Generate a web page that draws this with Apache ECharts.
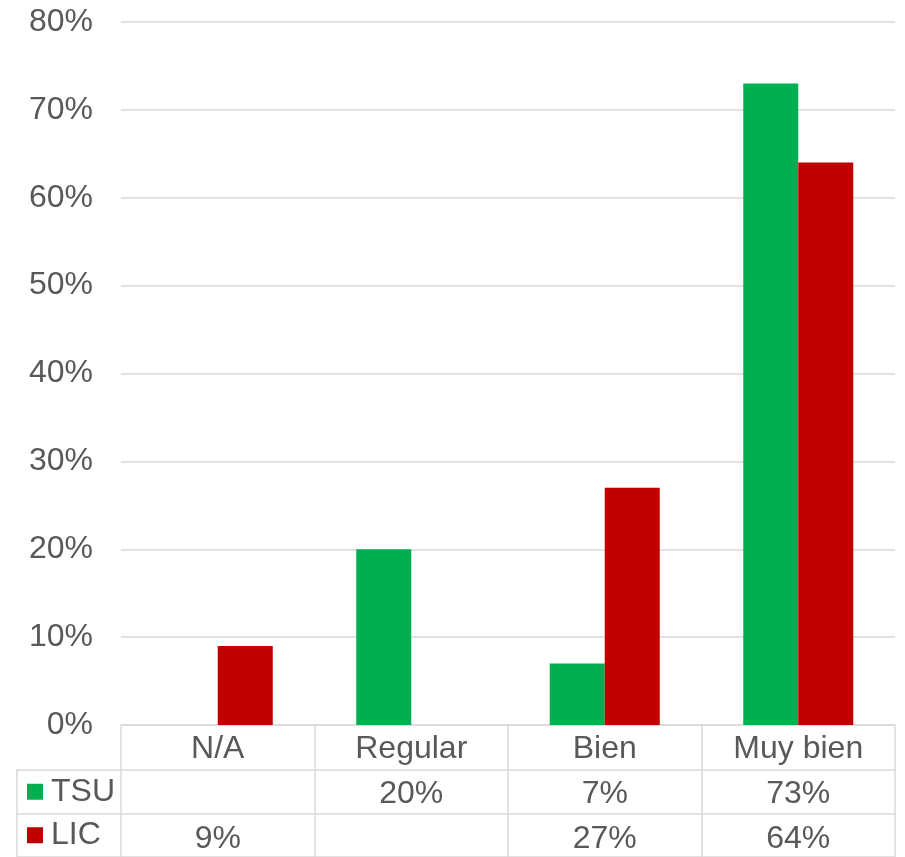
<!DOCTYPE html>
<html>
<head>
<meta charset="utf-8">
<script src="https://cdn.jsdelivr.net/npm/echarts@6/dist/echarts.min.js"></script>
<style>
  html, body { margin: 0; padding: 0; background: #fff; }
  #chart { width: 905px; height: 857px; }
</style>
</head>
<body>
<div id="chart"></div>
<script>
// datos
const categories = ["N/A", "Regular", "Bien", "Muy bien"];
const tsuValues = [null, 20, 7, 73];
const licValues = [9, null, 27, 64];
const rowNames = ["TSU", "LIC"];
const yTicks = { min: 0, max: 80, interval: 10 };

const colors = ["#00B050", "#C00000"];
const textColor = "#595959";
const lineColor = "#d9d9d9";
const font = "'Liberation Sans', Arial, sans-serif";

const fmt = (v) => (v == null ? "" : v + "%");

const chart = echarts.init(document.getElementById("chart"));

const labelStyle = {
  fontSize: 32,
  color: textColor,
  fontFamily: font,
  margin: 8,
};

chart.setOption({
  animation: false,
  grid: [
    // área de barras
    { left: 121, right: 10, top: 22, height: 703 },
    // filas de la tabla (líneas horizontales + nombres)
    { left: 17, right: 10, top: 770, height: 90 },
  ],
  xAxis: [
    {
      type: "category",
      gridIndex: 0,
      data: categories,
      position: "bottom",
      axisLine: { show: true, lineStyle: { color: lineColor, width: 1.5 } },
      axisTick: { show: true, length: 135, lineStyle: { color: lineColor, width: 1.5 } },
      axisLabel: labelStyle,
    },
    {
      type: "category",
      gridIndex: 0,
      data: tsuValues.map(fmt),
      position: "bottom",
      offset: 45,
      axisLine: { show: false },
      axisTick: { show: false },
      axisLabel: labelStyle,
    },
    {
      type: "category",
      gridIndex: 0,
      data: licValues.map(fmt),
      position: "bottom",
      offset: 90,
      axisLine: { show: false },
      axisTick: { show: false },
      axisLabel: labelStyle,
    },
    {
      type: "category",
      gridIndex: 1,
      data: [""],
      show: false,
    },
  ],
  yAxis: [
    {
      type: "value",
      gridIndex: 0,
      min: yTicks.min,
      max: yTicks.max,
      interval: yTicks.interval,
      axisLine: { show: false },
      axisTick: { show: false },
      axisLabel: {
        formatter: "{value}%",
        fontSize: 32,
        color: textColor,
        fontFamily: font,
        margin: 28,
      },
      splitLine: { lineStyle: { color: lineColor, width: 1.5 } },
    },
    {
      type: "category",
      gridIndex: 1,
      data: rowNames,
      inverse: true,
      axisLine: { show: true, lineStyle: { color: lineColor, width: 1.5 } },
      axisTick: { show: false },
      axisLabel: {
        inside: true,
        margin: 10,
        formatter: (v, i) => `{m${i}|}{t|${v}}`,
        rich: {
          m0: { width: 16, height: 16, backgroundColor: colors[0] },
          m1: { width: 16, height: 16, backgroundColor: colors[1] },
          t: { fontSize: 32, color: textColor, fontFamily: font, padding: [0, 0, 0, 8] },
        },
      },
      splitLine: { show: true, lineStyle: { color: lineColor, width: 1.5 } },
    },
  ],
  series: [
    {
      name: "TSU",
      type: "bar",
      xAxisIndex: 0,
      yAxisIndex: 0,
      data: tsuValues,
      barWidth: 55,
      barGap: "0%",
      itemStyle: { color: colors[0] },
    },
    {
      name: "LIC",
      type: "bar",
      xAxisIndex: 0,
      yAxisIndex: 0,
      data: licValues,
      barWidth: 55,
      barGap: "0%",
      itemStyle: { color: colors[1] },
    },
  ],
});

window.addEventListener("resize", () => {
  chart && chart.resize();
});
</script>
</body>
</html>
